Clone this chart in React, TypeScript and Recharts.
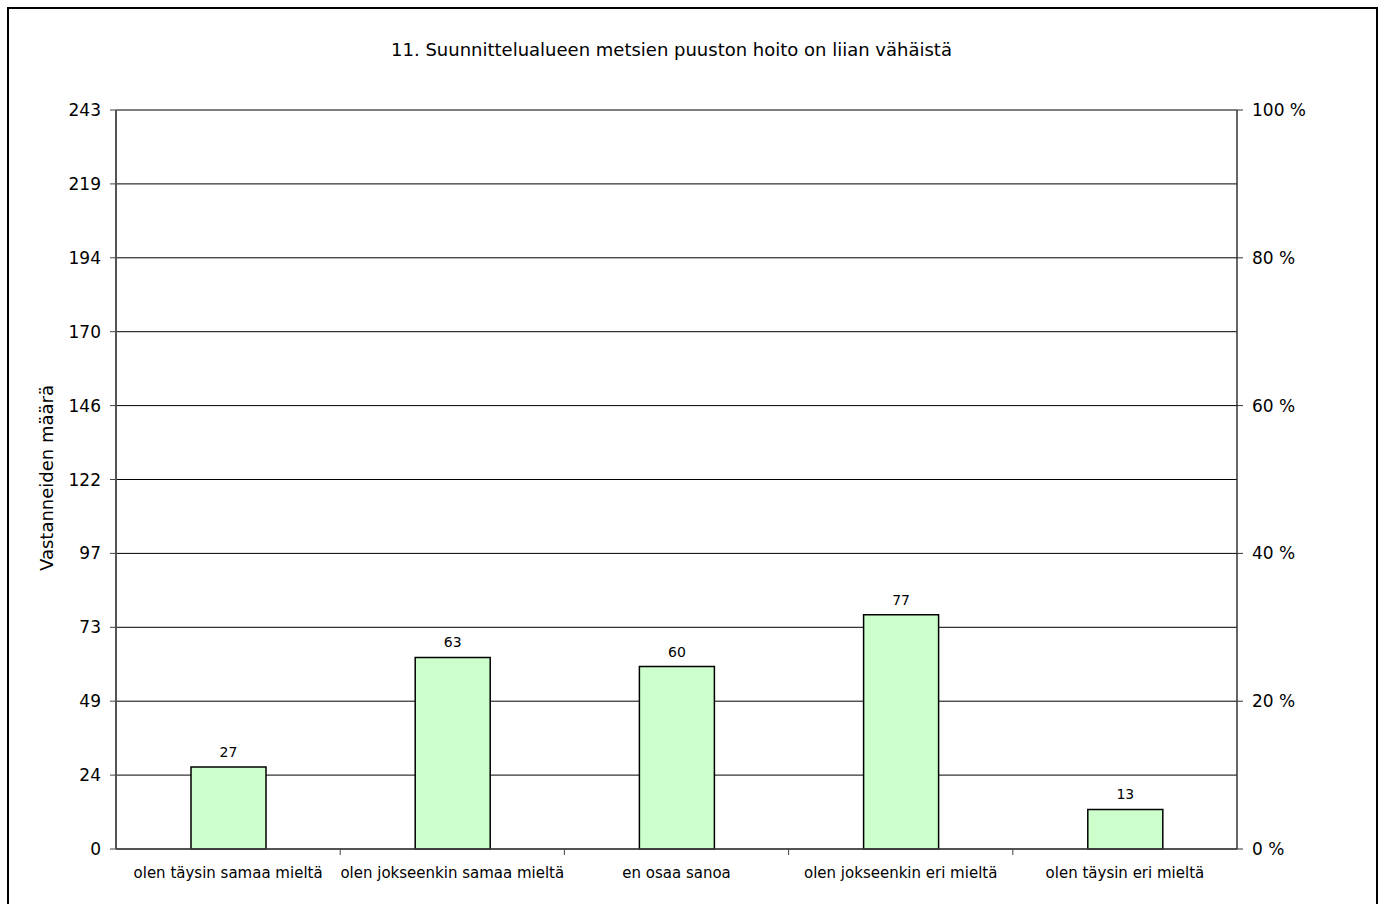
import { BarChart, Bar, XAxis, YAxis, CartesianGrid, LabelList } from 'recharts'

const categories = [
  'olen täysin samaa mieltä',
  'olen jokseenkin samaa mieltä',
  'en osaa sanoa',
  'olen jokseenkin eri mieltä',
  'olen täysin eri mieltä',
]
const counts = [27, 63, 60, 77, 13]
const countMax = 243
const countTickLabels = ['0', '24', '49', '73', '97', '122', '146', '170', '194', '219', '243']
const percentTicks = [0, 20, 40, 60, 80, 100]

const title = '11. Suunnittelualueen metsien puuston hoito on liian vähäistä'
const yTitle = 'Vastanneiden määrä'

const data = categories.map((name, i) => ({ name, count: counts[i] }))
const countTicks = countTickLabels.map((_, i) => (countMax * i) / (countTickLabels.length - 1))

const FONT = '"DejaVu Sans", Verdana, sans-serif'
const W = 1367
const H = 900
const PLOT_BOTTOM = 840

function CategoryTick(props: any) {
  const { x, payload, index } = props
  const half = payload?.offset ?? 112.1
  return (
    <g>
      {index > 0 && (
        <line x1={x - half} x2={x - half} y1={PLOT_BOTTOM} y2={PLOT_BOTTOM + 6} stroke="#444" strokeWidth={1} />
      )}
      <text x={x} y={PLOT_BOTTOM + 24} dy="0.35em" textAnchor="middle" fontSize={15} fontFamily={FONT} fill="#000">
        {payload.value}
      </text>
    </g>
  )
}

export default function App() {
  return (
    <div
      style={{
        position: 'fixed',
        left: 0,
        top: 0,
        width: 1384,
        height: 904,
        overflow: 'hidden',
        background: '#fff',
      }}
    >
      <div
        style={{
          position: 'absolute',
          left: 7,
          top: 7,
          width: W,
          height: H,
          border: '2px solid #000',
          background: '#fff',
          fontFamily: FONT,
        }}
      >
        <div
          style={{
            position: 'absolute',
            left: 0,
            top: 30,
            width: 1325,
            textAlign: 'center',
            fontSize: 18,
            lineHeight: '22px',
            color: '#000',
          }}
        >
          {title}
        </div>
        <div
          style={{
            position: 'absolute',
            left: -112,
            top: 458,
            width: 300,
            height: 22,
            lineHeight: '22px',
            textAlign: 'center',
            fontSize: 18,
            color: '#000',
            transform: 'rotate(-90deg)',
          }}
        >
          {yTitle}
        </div>
        <BarChart
          width={W}
          height={H}
          data={data}
          margin={{ top: 101, right: 0, bottom: 0, left: 0 }}
          barSize={75}
        >
          <CartesianGrid yAxisId="left" vertical={false} stroke="#000" strokeWidth={1} />
          <XAxis
            dataKey="name"
            height={60}
            axisLine={{ stroke: '#444', strokeWidth: 1.5 }}
            tickLine={false}
            interval={0}
            tick={<CategoryTick />}
          />
          <YAxis
            yAxisId="left"
            width={107}
            domain={[0, countMax]}
            ticks={countTicks}
            interval={0}
            tickFormatter={(_v: number, i: number) => countTickLabels[i]}
            axisLine={{ stroke: '#555', strokeWidth: 2 }}
            tickLine={{ stroke: '#444' }}
            tickSize={6}
            tickMargin={9}
            tick={{ fontSize: 17, fill: '#000', fontFamily: FONT }}
          />
          <YAxis
            yAxisId="right"
            orientation="right"
            type="number"
            width={139}
            domain={[0, 100]}
            allowDataOverflow
            ticks={percentTicks}
            interval={0}
            tickFormatter={(v: number) => `${v} %`}
            axisLine={{ stroke: '#333', strokeWidth: 1.5 }}
            tickLine={{ stroke: '#333' }}
            tickSize={6}
            tickMargin={9}
            tick={{ fontSize: 17, fill: '#000', fontFamily: FONT }}
          />
          <Bar
            yAxisId="left"
            dataKey="count"
            fill="#ccffcc"
            stroke="#000"
            strokeWidth={1.5}
            isAnimationActive={false}
          >
            <LabelList
              dataKey="count"
              position="top"
              offset={10}
              style={{ fontSize: 14, fill: '#000', fontFamily: FONT }}
            />
          </Bar>
        </BarChart>
      </div>
    </div>
  )
}
